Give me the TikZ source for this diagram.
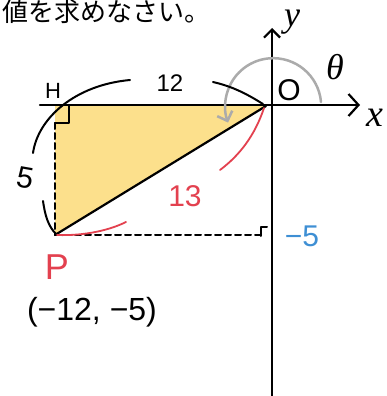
\documentclass[tikz,border=0pt]{standalone}
\usepackage{fontspec}
\setmainfont{Liberation Sans}
\newfontfamily\jp{Noto Sans CJK JP}
\newfontfamily\vars{Liberation Serif}
\usetikzlibrary{arrows.meta}
\definecolor{fillY}{HTML}{FCE08C}
\definecolor{myred}{HTML}{E3414F}
\definecolor{myblue}{HTML}{3E8FD4}
\definecolor{mygray}{HTML}{ABABAB}
\tikzset{
  axis/.style={line width=2.2pt, -{Straight Barb[length=10pt,width=22pt,line width=2.2pt]}},
  brace/.style={line width=2pt},
  redbrace/.style={myred, line width=1.8pt},
  dashline/.style={line width=2pt, dash pattern=on 6pt off 4pt},
  lbl/.style={inner sep=0pt},
  varlbl/.style={inner sep=0pt, font=\vars\itshape\fontsize{#1}{#1}\selectfont},
}
\begin{document}
\begin{tikzpicture}[x=1pt,y=-1pt, line cap=round, line join=round]
\useasboundingbox (0,0) rectangle (387,396);
\fill[white] (0,0) rectangle (387,396);
% key points
\coordinate (H) at (55,105);
\coordinate (O) at (266,106);
\coordinate (P) at (55,235);
\coordinate (Q) at (261,235);
\coordinate (xs) at (40,105);
\coordinate (xe) at (360,105);
\coordinate (ys) at (272,396);
\coordinate (ye) at (272,28);
% triangle fill
\fill[fillY] (H) -- (O) -- (P) -- cycle;
% axes
\draw[axis] (xs) -- (xe);
\draw[line width=2.2pt, -{Straight Barb[length=8pt,width=16pt,line width=2.2pt]}] (ys) -- (ye);
% right angle marks
\draw[line width=2pt] (55,123) -- (69,123) -- (69,106);
\draw[line width=2pt] (261,236) -- (261,227) -- (267,227);
% dashed lines
\coordinate (Hd) at (55,123);
\draw[dashline] (Hd) -- (P);
\draw[dashline] (P) -- (Q);
% hypotenuse
\draw[line width=2.2pt] (P) -- (O);
% theta arc
\coordinate (ths) at (321,102);
\draw[mygray, line width=2.5pt, -{Straight Barb[length=8pt,width=16pt,line width=2.5pt]}] (ths) arc[start angle=-5, end angle=-200, radius=48];
% black brace arcs
\draw[brace] (33,153) .. controls (38,118) and (75,85) .. (130,80);
\draw[brace] (213,82) .. controls (235,87) and (250,96) .. (263,104);
\draw[brace] (43,201) .. controls (45,215) and (48,226) .. (56,234);
% red brace arcs
\draw[redbrace] (57,235) .. controls (85,236) and (110,230) .. (126,222);
\draw[redbrace] (220,170) .. controls (240,155) and (255,135) .. (264,108);
% labels
\node[lbl, anchor=base west, font=\jp\fontsize{26}{26}\selectfont] (title) at (2,22) {値を求めなさい。};
\node[varlbl=36, anchor=base, text height=0.5em, text depth=0.25em] (ylab) at (292,27) {y};
\node[varlbl=38] (xlab) at (375,118) {x};
\node[varlbl=36] (th) at (335,67) {θ};
\node[lbl, font=\fontsize{30}{30}\selectfont] (Olab) at (289,90) {O};
\node[lbl, font=\fontsize{22}{22}\selectfont] (Hlab) at (53,91) {H};
\node[lbl, font=\fontsize{24}{24}\selectfont] (l12) at (170,83) {12};
\node[lbl, font=\fontsize{30}{30}\selectfont, rotate=-10] (l5) at (25,178) {5};
\node[lbl, myred, font=\fontsize{30}{30}\selectfont] (l13) at (185,196) {13};
\node[lbl, myblue, font=\fontsize{30}{30}\selectfont] (m5) at (302,236) {−5};
\node[lbl, myred, font=\fontsize{36}{36}\selectfont] (Plab) at (57,267) {P};
\node[lbl, font=\fontsize{32}{32}\selectfont] (Pco) at (92,312) {(−12, −5)};
\end{tikzpicture}
\end{document}
